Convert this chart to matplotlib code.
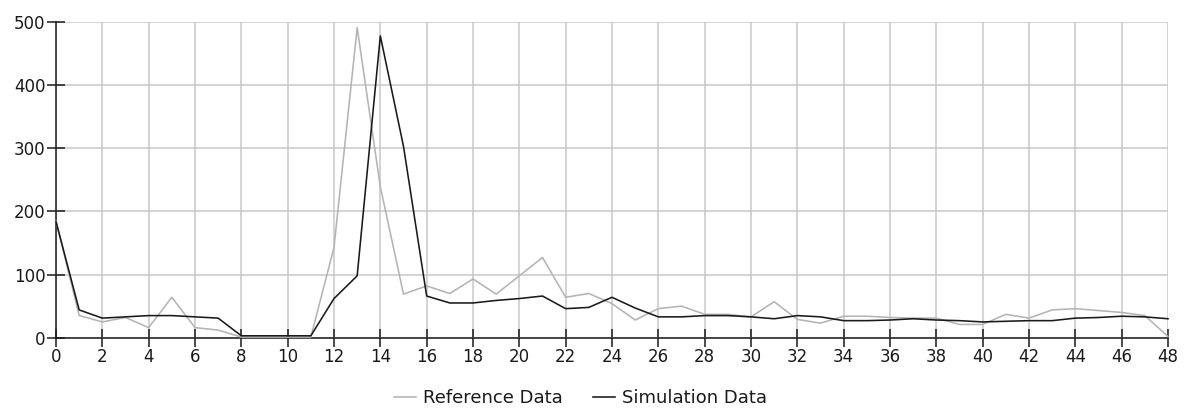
import matplotlib
matplotlib.use("Agg")
import matplotlib.pyplot as plt
from matplotlib import font_manager

x_values = list(range(49))
reference_data = [185, 35, 25, 32, 16, 64, 16, 12, 1, 1, 1, 1, 143, 491, 239, 69, 82, 70, 93, 69,
                  98, 127, 64, 70, 54, 28, 46, 50, 37, 37, 33, 57, 29, 23, 34, 34, 32, 31, 31, 21,
                  21, 37, 31, 44, 46, 43, 40, 35, 2]
simulation_data = [184, 44, 31, 33, 35, 35, 33, 31, 3, 3, 3, 3, 62, 98, 478, 303, 66, 55, 55, 59,
                   62, 66, 46, 48, 64, 47, 33, 33, 35, 35, 33, 30, 35, 33, 27, 27, 28, 30, 28, 27,
                   25, 26, 27, 27, 31, 32, 34, 33, 30]
x_ticks = list(range(0, 49, 2))
y_ticks = [0, 100, 200, 300, 400, 500]
series_labels = ["Reference Data", "Simulation Data"]

plt.rcParams['font.family'] = 'sans-serif'
plt.rcParams['font.sans-serif'] = ['DejaVu Sans']
fp = font_manager.FontProperties(family='DejaVu Sans', size=12)
fp_leg = font_manager.FontProperties(family='DejaVu Sans', size=13)

fig = plt.figure(figsize=(11.86, 4.08), dpi=100)
ax = fig.add_axes([56/1186, 70.3/408, (1168-56)/1186, (337.7-22)/408])

ax.plot(x_values, reference_data, color='#b4b4b4', lw=1.15, label=series_labels[0], zorder=3, clip_on=False)
ax.plot(x_values, simulation_data, color='#1a1a1a', lw=1.15, label=series_labels[1], zorder=4, clip_on=False)

ax.set_xlim(0, 48)
ax.set_ylim(0, 500)
ax.set_xticks(x_ticks)
ax.set_yticks(y_ticks)
ax.set_xticklabels([str(t) for t in x_ticks], fontproperties=fp)
ax.set_yticklabels([str(t) for t in y_ticks], fontproperties=fp)
ax.grid(True, color='#c8c8c8', lw=1.1)
ax.set_axisbelow(True)
for s in ['top', 'right']:
    ax.spines[s].set_visible(False)
for s in ['left', 'bottom']:
    ax.spines[s].set_color('#1a1a1a')
    ax.spines[s].set_linewidth(1.1)
ax.tick_params(axis='both', direction='inout', length=13, width=1.1, color='#1a1a1a',
               labelcolor='#1a1a1a')
ax.tick_params(axis='x', pad=1)
ax.tick_params(axis='y', pad=1)

fig.legend(loc='center', bbox_to_anchor=(580.5/1186, 1 - 398/408), ncol=2, frameon=False,
           prop=fp_leg, handlelength=1.2, handletextpad=0.4, columnspacing=1.7,
           borderpad=0, labelcolor='#1a1a1a')

fig.savefig('out.png', dpi=100)
